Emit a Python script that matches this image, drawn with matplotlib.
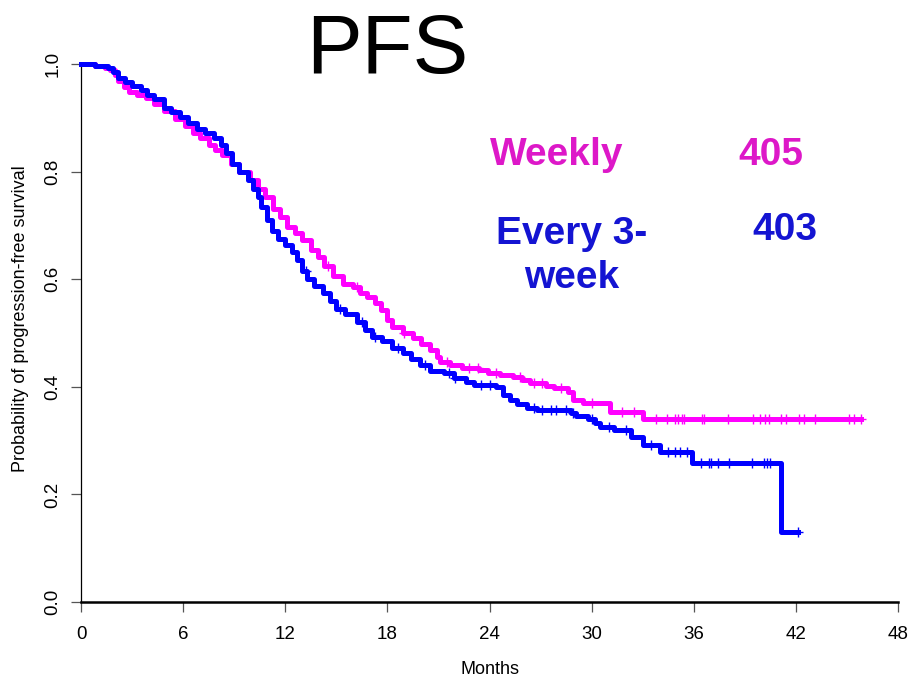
import numpy as np
import matplotlib
matplotlib.use("Agg")
import matplotlib.pyplot as plt

plt.rcParams['font.family'] = ['Liberation Sans', 'DejaVu Sans']

# Weekly arm: step times (months) and survival after each step
weekly_t = [0, 0.8, 1.4, 1.7, 2.0, 2.2, 2.5, 2.8, 3.3, 3.8, 4.3, 4.9, 5.5, 6.1, 6.6, 7.0,
            7.5, 7.9, 8.3, 8.8, 9.3, 9.9, 10.4, 10.8, 11.3, 11.7, 12.1, 12.6, 13.0, 13.5,
            13.9, 14.3, 14.8, 15.4, 16.0, 16.4, 16.8, 17.3, 17.6, 18.0, 18.3, 18.9, 19.5,
            20.0, 20.5, 20.9, 21.1, 21.7, 22.4, 23.4, 23.9, 24.6, 25.4, 25.9, 26.4, 27.3,
            27.8, 28.6, 28.9, 29.5, 31.1, 33.0, 45.8]
weekly_s = [1.0, 0.996, 0.992, 0.988, 0.980, 0.968, 0.958, 0.948, 0.942, 0.936, 0.925, 0.912,
            0.898, 0.885, 0.872, 0.862, 0.850, 0.840, 0.830, 0.815, 0.800, 0.784, 0.768,
            0.752, 0.730, 0.715, 0.697, 0.685, 0.672, 0.655, 0.641, 0.625, 0.606, 0.592,
            0.586, 0.575, 0.567, 0.555, 0.543, 0.525, 0.511, 0.500, 0.491, 0.480, 0.468,
            0.455, 0.446, 0.440, 0.435, 0.432, 0.426, 0.422, 0.418, 0.412, 0.407, 0.402,
            0.398, 0.390, 0.375, 0.370, 0.353, 0.341, 0.341]
weekly_cens = [14.5, 16.2, 19.0, 21.5, 22.8, 23.3, 24.4, 25.8, 26.6, 27.1, 28.2, 30.0, 31.8,
               32.5, 33.8, 34.4, 34.9, 35.1, 35.3, 35.4, 36.5, 36.6, 38.0, 39.5, 39.9, 40.2,
               40.4, 41.1, 41.4, 42.2, 42.5, 43.1, 45.1, 45.4, 45.8]

# Every 3-week arm
q3w_t = [0, 0.8, 1.6, 1.9, 2.2, 2.6, 3.0, 3.5, 3.9, 4.3, 4.9, 5.3, 5.8, 6.3, 6.8, 7.3, 7.8,
         8.2, 8.5, 8.9, 9.3, 9.8, 10.1, 10.4, 10.6, 10.9, 11.2, 11.6, 12.0, 12.4, 12.7, 13.0,
         13.3, 13.7, 14.2, 14.6, 15.0, 15.5, 16.2, 16.7, 17.1, 17.7, 18.3, 18.9, 19.4, 19.9,
         20.5, 21.3, 21.9, 22.6, 23.1, 24.4, 24.8, 25.2, 25.6, 26.2, 26.8, 28.8, 29.1, 29.8,
         30.2, 30.5, 31.3, 32.3, 33.0, 34.0, 35.9, 41.1, 42.1]
q3w_s = [1.0, 0.996, 0.992, 0.985, 0.974, 0.966, 0.960, 0.952, 0.943, 0.935, 0.918, 0.910,
         0.902, 0.890, 0.880, 0.872, 0.862, 0.850, 0.835, 0.815, 0.800, 0.785, 0.768, 0.752,
         0.735, 0.710, 0.690, 0.675, 0.664, 0.650, 0.636, 0.615, 0.600, 0.588, 0.574, 0.560,
         0.545, 0.535, 0.520, 0.505, 0.493, 0.485, 0.473, 0.463, 0.452, 0.440, 0.430, 0.425,
         0.416, 0.408, 0.403, 0.400, 0.385, 0.376, 0.368, 0.361, 0.357, 0.352, 0.346, 0.340,
         0.333, 0.325, 0.320, 0.307, 0.292, 0.279, 0.259, 0.130, 0.130]
q3w_cens = [13.2, 15.2, 16.5, 17.3, 18.6, 20.2, 21.6, 22.0, 23.5, 24.0, 26.6, 27.1, 27.6,
            27.9, 28.5, 28.9, 30.0, 31.0, 32.0, 33.5, 34.5, 34.9, 35.2, 35.6, 36.4, 36.9,
            37.0, 37.4, 38.1, 39.4, 40.1, 40.3, 40.5, 42.1]

x_ticks = [0, 6, 12, 18, 24, 30, 36, 42, 48]
y_ticks = [0.0, 0.2, 0.4, 0.6, 0.8, 1.0]

magenta = '#FF00FF'
blue = '#0000FF'


def surv_at(t, s, x):
    # survival value of a step curve at the given times
    i = np.searchsorted(t, x, side='right') - 1
    return np.asarray(s)[i]


fig = plt.figure(figsize=(9.13, 6.84), dpi=100)
ax = fig.add_axes([81 / 913, 1 - 602 / 684, 817 / 913, 538 / 684])

ax.step(weekly_t, weekly_s, where='post', color=magenta, lw=3.6, clip_on=False, zorder=3)
ax.step(q3w_t, q3w_s, where='post', color=blue, lw=3.6, clip_on=False, zorder=4)
# censoring marks
ax.plot(weekly_cens, surv_at(weekly_t, weekly_s, weekly_cens), ls='none', marker='+',
        ms=7, mew=1, color=magenta, clip_on=False, zorder=3)
ax.plot(q3w_cens, surv_at(q3w_t, q3w_s, q3w_cens), ls='none', marker='+',
        ms=7, mew=1, color=blue, clip_on=False, zorder=4)

ax.set_xlim(0, 48)
ax.set_ylim(0, 1)
ax.set_xticks(x_ticks)
ax.set_xticklabels([str(v) for v in x_ticks])
ax.set_yticks(y_ticks)
ax.set_yticklabels(['%.1f' % v for v in y_ticks], rotation=90, va='center')

for side in ['top', 'right']:
    ax.spines[side].set_visible(False)
ax.spines['left'].set_linewidth(0.9)
ax.spines['bottom'].set_linewidth(1.8)
ax.tick_params(axis='both', length=7, width=0.9, color='#555555', labelsize=13.5)
ax.tick_params(axis='x', pad=10)
ax.tick_params(axis='y', pad=7)

ax.set_xlabel('Months', fontsize=13)
ax.xaxis.label.set_va('center')
ax.set_ylabel('Probability of progression-free survival', fontsize=13)
ax.yaxis.label.set_va('center')

# axis titles placed in figure coordinates
ax.xaxis.set_label_coords(490 / 913, 1 - 670 / 684, transform=fig.transFigure)
ax.yaxis.set_label_coords(21 / 913, 1 - 319 / 684, transform=fig.transFigure)

fig.text(387 / 913, 1 - 51 / 684, 'PFS', fontsize=60, ha='center', va='center')

fig.text(557 / 913, 1 - 155 / 684, 'Weekly', fontsize=28, fontweight='bold',
         color='#DD18C8', ha='center', va='center')
fig.text(771 / 913, 1 - 155 / 684, '405', fontsize=28, fontweight='bold',
         color='#DD18C8', ha='center', va='center')
fig.text(572 / 913, 1 - 256 / 684, 'Every 3-\nweek', fontsize=28, fontweight='bold',
         color='#1414D2', ha='center', va='center', multialignment='center',
         linespacing=1.32)
fig.text(785 / 913, 1 - 230 / 684, '403', fontsize=28, fontweight='bold',
         color='#1414D2', ha='center', va='center')

fig.savefig('out.png', dpi=100)
